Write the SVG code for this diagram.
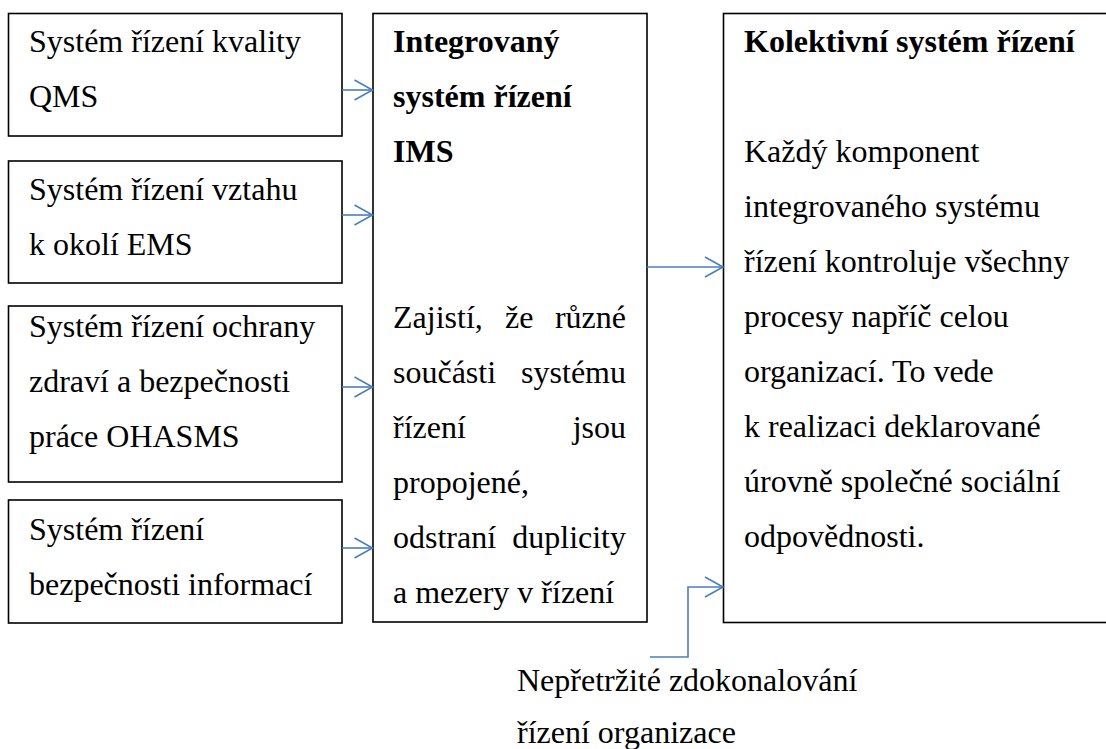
<svg xmlns="http://www.w3.org/2000/svg" width="1106" height="749" viewBox="0 0 1106 749">
  <style>
    .box { fill: #ffffff; stroke: #000000; stroke-width: 1.6; }
    .t { font-family: "Liberation Serif", "Times New Roman", serif; font-size: 32px; fill: #000000; }
    .b { font-weight: bold; }
    .link { fill: none; stroke: #4A7EBB; stroke-width: 1.6; }
  </style>
  <defs>
    <marker id="openArrow" markerUnits="userSpaceOnUse" markerWidth="22" markerHeight="24" refX="18" refY="10" orient="auto" overflow="visible">
      <path d="M0,0 L18,10 L0,20" fill="none" stroke="#4A7EBB" stroke-width="1.6"/>
    </marker>
  </defs>

  <rect width="1106" height="749" fill="#ffffff"/>

  <g id="qms">
    <rect class="box" x="8.5" y="13.5" width="333.5" height="122.5"/>
    <text class="t" x="29" y="52">Systém řízení kvality</text>
    <text class="t" x="29" y="107">QMS</text>
  </g>

  <g id="ems">
    <rect class="box" x="8.5" y="161" width="333.5" height="122"/>
    <text class="t" x="29" y="200">Systém řízení vztahu</text>
    <text class="t" x="29" y="255">k okolí EMS</text>
  </g>

  <g id="ohasms">
    <rect class="box" x="8.5" y="306" width="333.5" height="176"/>
    <text class="t" x="29" y="337">Systém řízení ochrany</text>
    <text class="t" x="29" y="392">zdraví a bezpečnosti</text>
    <text class="t" x="29" y="447">práce OHASMS</text>
  </g>

  <g id="isms">
    <rect class="box" x="8.5" y="500" width="333.5" height="123"/>
    <text class="t" x="29" y="540">Systém řízení</text>
    <text class="t" x="29" y="595">bezpečnosti informací</text>
  </g>

  <g id="ims">
    <rect class="box" x="373" y="13.5" width="274" height="608.5"/>
    <text class="t b" x="393" y="52">Integrovaný</text>
    <text class="t b" x="393" y="107">systém řízení</text>
    <text class="t b" x="393" y="162">IMS</text>
    <!-- justified paragraph -->
    <text class="t" y="328"><tspan x="393">Zajistí,</tspan><tspan x="505">že</tspan><tspan x="626" text-anchor="end">různé</tspan></text>
    <text class="t" y="383"><tspan x="393">součásti</tspan><tspan x="626" text-anchor="end">systému</tspan></text>
    <text class="t" y="438"><tspan x="393">řízení</tspan><tspan x="626" text-anchor="end">jsou</tspan></text>
    <text class="t" x="393" y="493">propojené,</text>
    <text class="t" y="548"><tspan x="393">odstraní</tspan><tspan x="626" text-anchor="end">duplicity</tspan></text>
    <text class="t" x="393" y="603">a mezery v řízení</text>
  </g>

  <g id="collective">
    <rect class="box" x="723.5" y="13.5" width="386" height="609"/>
    <text class="t b" x="744" y="52">Kolektivní systém řízení</text>
    <text class="t" x="744" y="162">Každý komponent</text>
    <text class="t" x="744" y="217">integrovaného systému</text>
    <text class="t" x="744" y="272">řízení kontroluje všechny</text>
    <text class="t" x="744" y="327">procesy napříč celou</text>
    <text class="t" x="744" y="382">organizací. To vede</text>
    <text class="t" x="744" y="437">k realizaci deklarované</text>
    <text class="t" x="744" y="492">úrovně společné sociální</text>
    <text class="t" x="744" y="547">odpovědnosti.</text>
  </g>

  <g id="improvement">
    <text class="t" x="517" y="691">Nepřetržité zdokonalování</text>
    <text class="t" x="517" y="743">řízení organizace</text>
  </g>

  <g id="connectors">
    <line class="link" x1="342" y1="90" x2="372.5" y2="90" marker-end="url(#openArrow)"/>
    <line class="link" x1="342" y1="215" x2="372.5" y2="215" marker-end="url(#openArrow)"/>
    <line class="link" x1="342" y1="387" x2="372.5" y2="387" marker-end="url(#openArrow)"/>
    <line class="link" x1="342" y1="548" x2="372.5" y2="548" marker-end="url(#openArrow)"/>
    <line class="link" x1="647" y1="267" x2="723" y2="267" marker-end="url(#openArrow)"/>
    <polyline class="link" points="650,657 688,657 688,587 723,587" marker-end="url(#openArrow)"/>
  </g>
</svg>
